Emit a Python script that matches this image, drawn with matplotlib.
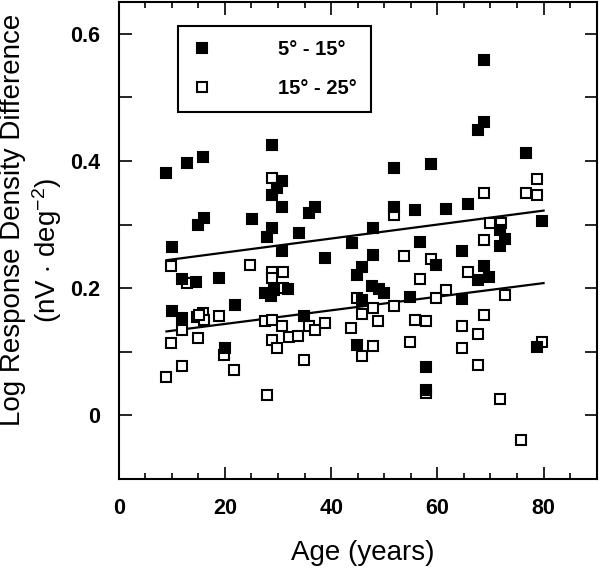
import matplotlib
matplotlib.use("Agg")
import matplotlib.pyplot as plt
from matplotlib.ticker import MultipleLocator, FuncFormatter
from matplotlib.lines import Line2D

plt.rcParams['font.family'] = ['Liberation Sans', 'DejaVu Sans']
plt.rcParams['mathtext.fontset'] = 'custom'
plt.rcParams['mathtext.rm'] = 'Liberation Sans'
plt.rcParams['mathtext.it'] = 'Liberation Sans:italic'

# ---- data: 5-15 deg (filled squares) ----
age_5_15 = [9.0, 12.9, 15.9, 28.8, 30.8, 29.9, 28.8, 30.8, 35.8, 37.0,
            15.0, 16.1, 25.1, 28.9, 28.0, 33.9, 10.0, 43.9, 30.8, 38.9,
            12.0, 14.6, 18.9, 10.0, 12.0, 21.9, 20.0, 27.6, 28.6, 29.2,
            31.9, 34.8, 51.9, 58.8, 51.9, 55.8, 61.7, 65.8, 47.8, 56.7,
            64.7, 47.8, 45.8, 44.8, 59.7, 68.7, 67.7, 69.7, 47.7, 49.0,
            49.9, 54.9, 64.7, 45.8, 44.8, 57.8, 57.8, 78.7, 68.7, 68.7,
            67.7, 76.7, 79.7, 71.7, 72.7, 71.7]
val_5_15 = [0.381, 0.397, 0.406, 0.425, 0.368, 0.357, 0.347, 0.328, 0.318, 0.328,
            0.300, 0.310, 0.309, 0.294, 0.281, 0.286, 0.265, 0.271, 0.259, 0.248,
            0.214, 0.209, 0.216, 0.164, 0.153, 0.174, 0.106, 0.192, 0.187, 0.197,
            0.198, 0.157, 0.389, 0.396, 0.328, 0.323, 0.325, 0.332, 0.295, 0.272,
            0.259, 0.252, 0.233, 0.221, 0.237, 0.235, 0.213, 0.218, 0.203, 0.199,
            0.192, 0.186, 0.183, 0.182, 0.111, 0.076, 0.040, 0.107, 0.559, 0.462,
            0.449, 0.413, 0.306, 0.292, 0.277, 0.266]

# ---- data: 15-25 deg (open squares) ----
age_15_25 = [28.8, 51.9, 68.7, 76.6, 78.7, 78.7, 69.9, 71.9, 68.7, 53.8,
             58.8, 65.8, 56.7, 61.7, 72.7, 44.8, 59.7, 47.8, 51.9, 45.8,
             68.7, 43.8, 48.8, 55.8, 57.8, 64.7, 67.7, 54.9, 47.8, 45.8,
             64.7, 67.7, 71.7, 75.7, 79.7, 57.8, 9.9, 24.8, 28.9, 30.9,
             28.9, 30.9, 12.9, 15.9, 14.8, 16.1, 18.9, 12.0, 9.9, 14.9,
             19.8, 21.8, 12.0, 8.9, 28.0, 27.6, 28.9, 30.8, 32.0, 33.8,
             35.8, 37.0, 38.9, 28.9, 29.9, 34.8, 15.1]
val_15_25 = [0.373, 0.315, 0.350, 0.350, 0.372, 0.347, 0.302, 0.302, 0.276, 0.250,
             0.246, 0.226, 0.214, 0.197, 0.190, 0.184, 0.184, 0.169, 0.172, 0.159,
             0.158, 0.137, 0.148, 0.150, 0.149, 0.140, 0.128, 0.116, 0.109, 0.094,
             0.106, 0.080, 0.026, -0.039, 0.116, 0.035, 0.235, 0.237, 0.226, 0.225,
             0.216, 0.200, 0.208, 0.161, 0.155, 0.150, 0.157, 0.135, 0.114, 0.122,
             0.095, 0.071, 0.078, 0.061, 0.032, 0.149, 0.150, 0.140, 0.123, 0.125,
             0.140, 0.135, 0.146, 0.118, 0.106, 0.087, 0.158]

# ---- regression lines ----
fit_age = [9, 80]
fit_5_15 = [0.244, 0.322]
fit_15_25 = [0.132, 0.208]

labels = ['5\u00b0 - 15\u00b0', '15\u00b0 - 25\u00b0']
x_ticks = [0, 20, 40, 60, 80]

fig = plt.figure(figsize=(6.0, 5.69), dpi=100)
ax = fig.add_axes([0.1978, 0.1582, 0.7967, 0.8383])

ax.plot(fit_age, fit_5_15, color='black', lw=1.6, zorder=2)
ax.plot(fit_age, fit_15_25, color='black', lw=1.6, zorder=2)
ax.plot(age_15_25, val_15_25, linestyle='none', marker='s', markersize=7.4,
        markerfacecolor='white', markeredgecolor='black', markeredgewidth=1.5, zorder=3)
ax.plot(age_5_15, val_5_15, linestyle='none', marker='s', markersize=7.4,
        markerfacecolor='black', markeredgecolor='black', markeredgewidth=1.5, zorder=4)

ax.set_xlim(0, 90)
ax.set_ylim(-0.1, 0.65)
ax.set_xticks(x_ticks)
ax.xaxis.set_minor_locator(MultipleLocator(5))
ax.yaxis.set_major_locator(MultipleLocator(0.2))
ax.yaxis.set_minor_locator(MultipleLocator(0.1))
ax.yaxis.set_major_formatter(FuncFormatter(lambda v, p: '0' if abs(v) < 1e-9 else f'{v:.1f}'))

for s in ax.spines.values():
    s.set_linewidth(1.5)
ax.tick_params(axis='both', which='both', direction='in', top=True, right=True, width=1.2)
ax.tick_params(axis='x', which='major', length=9, pad=14, labelsize=15.5)
ax.tick_params(axis='x', which='minor', length=4.5)
ax.tick_params(axis='y', which='major', length=9, pad=13, labelsize=15.5)
ax.tick_params(axis='y', which='minor', length=9)
for lab in ax.get_xticklabels() + ax.get_yticklabels():
    lab.set_fontweight('bold')

ax.set_xlabel('Age (years)', fontsize=20)
ax.xaxis.set_label_coords(0.511, -0.127)

fig.text(13 / 600, 1 - 220 / 569, 'Log Response Density Difference', rotation=90,
         ha='center', va='center', fontsize=20)
fig.text(47 / 600, 1 - 250 / 569, r'(nV $\cdot$ deg$^{-2}$)', rotation=90,
         ha='center', va='center', fontsize=20)

handles = [Line2D([], [], linestyle='none', marker='s', markersize=7.4,
                  markerfacecolor='black', markeredgecolor='black', markeredgewidth=1.5),
           Line2D([], [], linestyle='none', marker='s', markersize=7.4,
                  markerfacecolor='white', markeredgecolor='black', markeredgewidth=1.5)]
leg = ax.legend(handles, labels, loc='upper left', bbox_to_anchor=(0.1234, 0.9497),
                borderaxespad=0, frameon=True, fancybox=False, shadow=False,
                handlelength=1.0, handletextpad=3.3, borderpad=0.7, labelspacing=1.0,
                prop={'weight': 'bold', 'size': 14.5})
leg.get_frame().set_edgecolor('black')
leg.get_frame().set_linewidth(1.5)
leg.get_frame().set_alpha(None)

fig.savefig('out.png', dpi=100)
